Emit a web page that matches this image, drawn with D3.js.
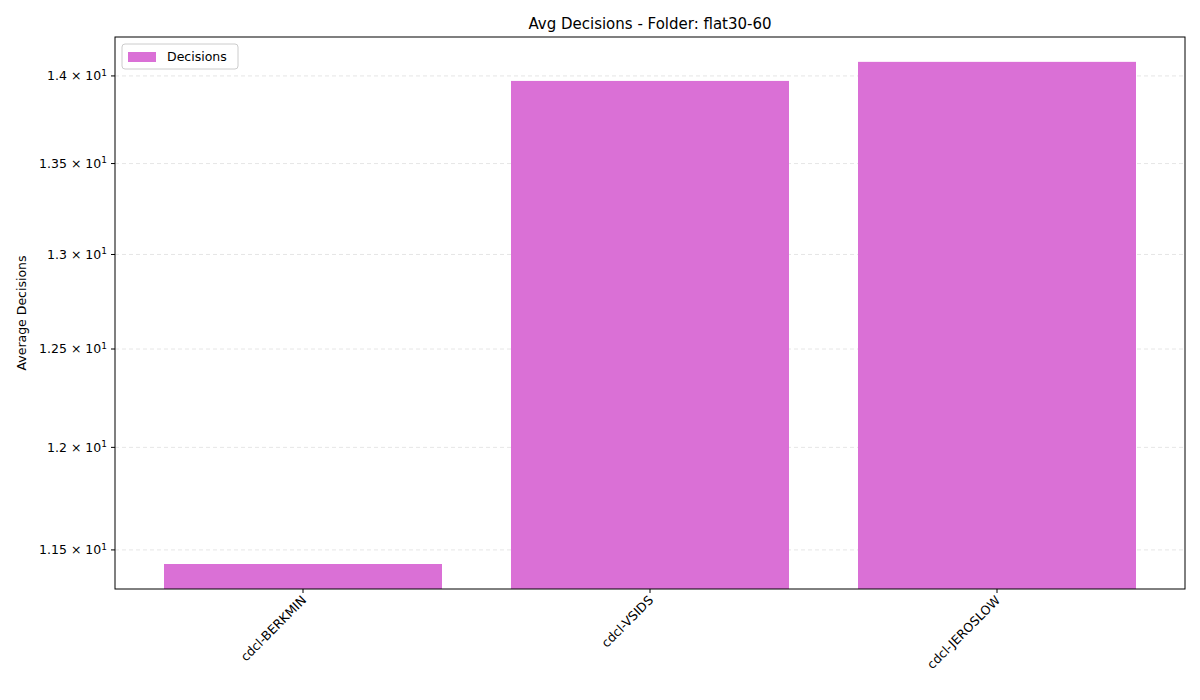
<!DOCTYPE html>
<html><head><meta charset="utf-8">
<script src="https://cdn.jsdelivr.net/npm/d3@7"></script>
<style>body{margin:0;background:#fff;font-family:"DejaVu Sans",sans-serif}</style>
</head><body><svg id="c" width="1200" height="700"></svg>
<script>
const categories=["cdcl-BERKMIN","cdcl-VSIDS","cdcl-JEROSLOW"];
const values=[11.433,13.971,14.082];
const tickValues=[11.5,12,12.5,13,13.5,14];
const tickMantissa=["1.15","1.2","1.25","1.3","1.35","1.4"];

const svg=d3.select("#c");
const L=115,R=1185,T=37,B=589;
const y=d3.scaleLog().domain([11.315,14.228]).range([B,T]);
const x=d3.scaleLinear().domain([0,2]).range([303,997]);
const bw=278;

// grid
svg.append("g").selectAll("line").data(tickValues).join("line")
 .attr("x1",L).attr("x2",R).attr("y1",d=>y(d)).attr("y2",d=>y(d))
 .attr("stroke","#e0e0e0").attr("stroke-dasharray","4,3").attr("stroke-width",0.8);

svg.append("g").selectAll("rect").data(values).join("rect")
 .attr("x",(d,i)=>x(i)-bw/2).attr("width",bw)
 .attr("y",d=>y(d)).attr("height",d=>B-y(d)).attr("fill","#DA70D6");

svg.append("rect").attr("x",L).attr("y",T).attr("width",R-L).attr("height",B-T)
 .attr("fill","none").attr("stroke","#000").attr("stroke-width",1);

// y ticks
const yt=svg.append("g").selectAll("g").data(tickValues).join("g")
 .attr("transform",d=>`translate(${L},${y(d)})`);
yt.append("line").attr("x1",-4).attr("x2",0).attr("stroke","#000");
const tt=yt.append("text").attr("x",-8).attr("dy","0.35em").attr("text-anchor","end")
 .attr("font-size",12.5);
tt.append("tspan").text((d,i)=>tickMantissa[i]+" \u00d7 10");
tt.append("tspan").attr("dy","-0.5em").attr("font-size",9).text("1");

// x ticks
const xt=svg.append("g").selectAll("g").data(categories).join("g")
 .attr("transform",(d,i)=>`translate(${x(i)},${B})`);
xt.append("line").attr("y2",4).attr("stroke","#000");
xt.append("text").attr("transform","translate(4,12) rotate(-45)").attr("text-anchor","end")
 .attr("font-size",12.5).text(d=>d);

svg.append("text").attr("x",650).attr("y",29).attr("text-anchor","middle")
 .attr("font-size",15).text("Avg Decisions - Folder: flat30-60");
svg.append("text").attr("transform",`translate(26,${(T+B)/2}) rotate(-90)`)
 .attr("text-anchor","middle").attr("font-size",12.5).text("Average Decisions");

// legend
const lg=svg.append("g").attr("transform","translate(122,44)");
lg.append("rect").attr("width",116).attr("height",25).attr("rx",3).attr("fill","#fff")
 .attr("stroke","#ccc");
lg.append("rect").attr("x",6).attr("y",8).attr("width",28).attr("height",10).attr("fill","#DA70D6");
lg.append("text").attr("x",45).attr("y",17).attr("font-size",12.5).text("Decisions");
</script></body></html>
